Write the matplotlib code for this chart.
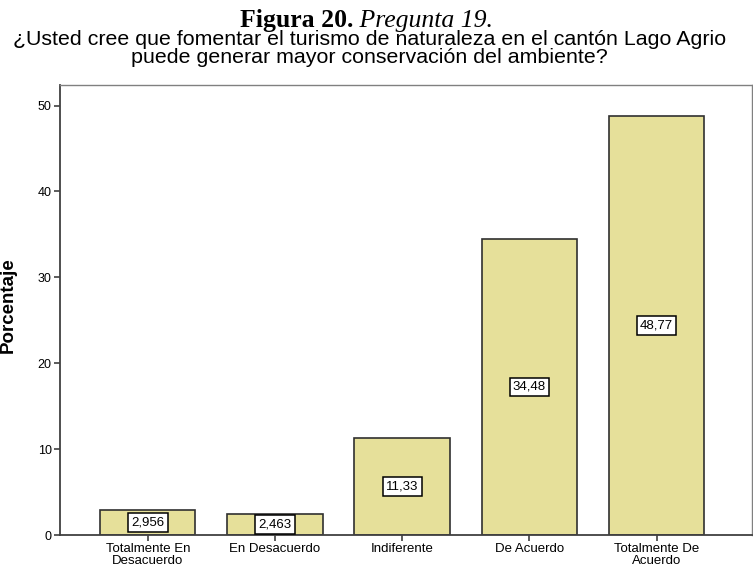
import matplotlib
matplotlib.use('Agg')
import matplotlib.pyplot as plt

categories = ['Totalmente En\nDesacuerdo', 'En Desacuerdo', 'Indiferente',
              'De Acuerdo', 'Totalmente De\nAcuerdo']
values = [2.956, 2.463, 11.33, 34.48, 48.77]
value_labels = ['2,956', '2,463', '11,33', '34,48', '48,77']
yticks = [0, 10, 20, 30, 40, 50]

W, H = 753, 573
fig = plt.figure(figsize=(W / 100, H / 100), dpi=100)
ax = fig.add_axes([60 / W, 1 - 535 / H, 692 / W, 450 / H])

x = list(range(len(categories)))
ax.bar(x, values, width=0.75, color='#e6e09a', edgecolor='#303030', linewidth=1.2)

# value boxes in the middle of each bar
for xi, v, lab in zip(x, values, value_labels):
	ax.text(xi, v / 2, lab, ha='center', va='center', fontsize=9.5,
		family='Liberation Sans',
		bbox=dict(boxstyle='square,pad=0.25', fc='white', ec='black', lw=1.1))

ax.set_xlim(-0.69, 4.75)
ax.set_ylim(0, 52.4)
ax.set_xticks(x)
ax.set_xticklabels(categories, fontsize=9.5, family='Liberation Sans', linespacing=0.95)
ax.set_yticks(yticks)
ax.set_yticklabels([str(t) for t in yticks], fontsize=9, family='Liberation Sans')
ax.tick_params(axis='both', direction='out', length=4, width=1.2, color='#404040', pad=2)

for s in ['left', 'bottom']:
	ax.spines[s].set_color('#404040')
	ax.spines[s].set_linewidth(1.3)
for s in ['top', 'right']:
	ax.spines[s].set_color('#808080')
	ax.spines[s].set_linewidth(1)

fig.text(8 / W, 1 - 305 / H, 'Porcentaje', rotation=90, ha='center', va='center',
	fontsize=13.5, fontweight='bold', family='Liberation Sans')

# figure caption: bold label + italic text, joined at x=353
fig.text(353 / W, 1 - 27 / H, 'Figura 20.', ha='right', va='baseline',
	fontsize=18.5, fontweight='bold', family='Liberation Serif')
fig.text(353 / W, 1 - 27 / H, ' Pregunta 19.', ha='left', va='baseline',
	fontsize=18.5, style='italic', family='Liberation Serif')

# chart title, two lines
fig.text(369.5 / W, 1 - 45 / H,
	'¿Usted cree que fomentar el turismo de naturaleza en el cantón Lago Agrio',
	ha='center', va='baseline', fontsize=15.4, family='Liberation Sans')
fig.text(369.5 / W, 1 - 63 / H,
	'puede generar mayor conservación del ambiente?',
	ha='center', va='baseline', fontsize=15.4, family='Liberation Sans')

fig.savefig('out.png', dpi=100)
